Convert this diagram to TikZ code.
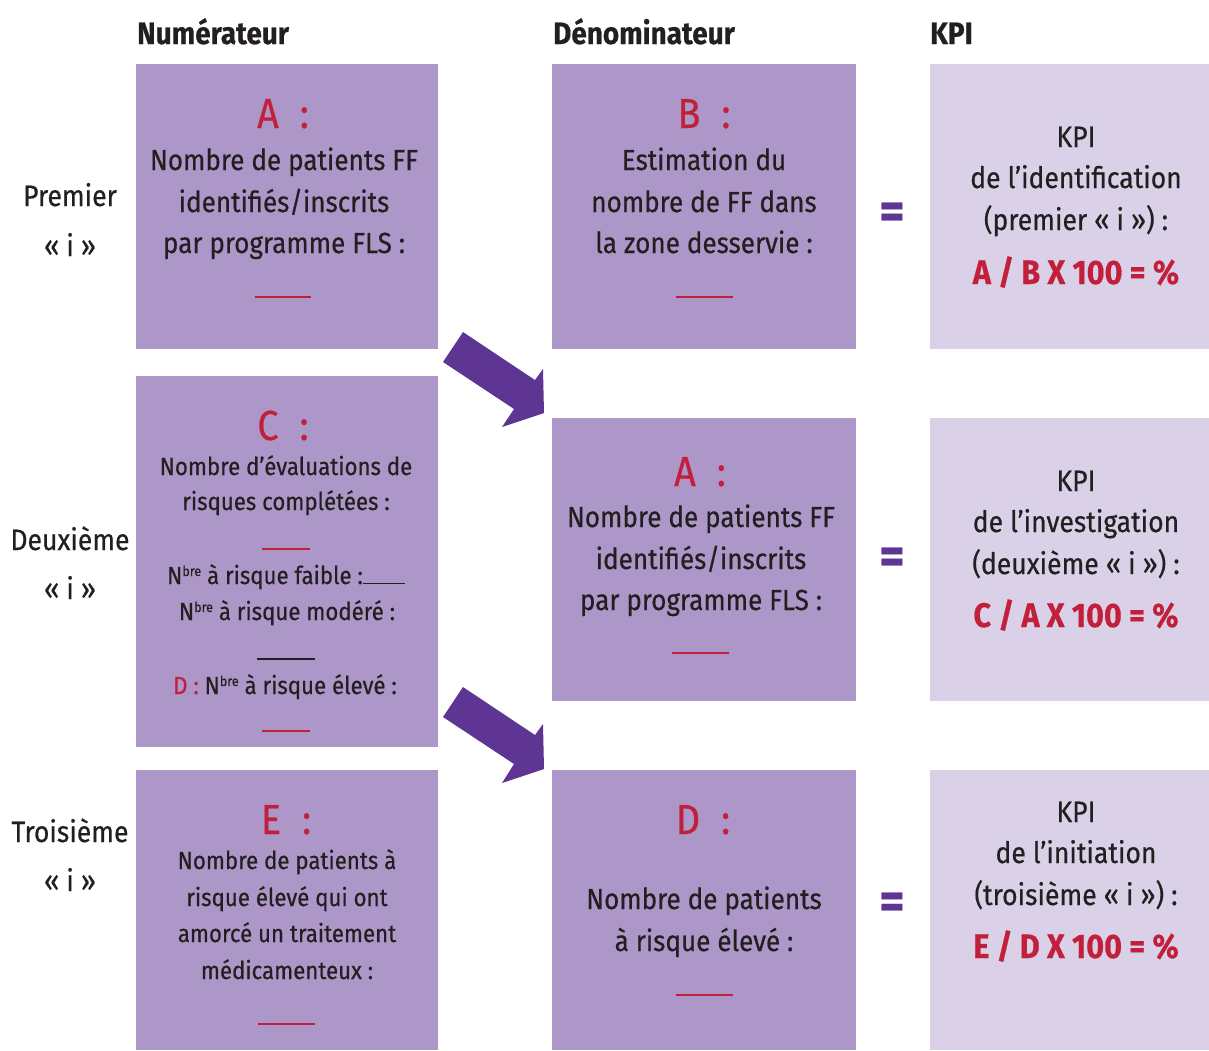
\documentclass[tikz,border=0pt]{standalone}
\usepackage{fontspec}
\setmainfont{Fira Sans}[FakeStretch=0.9,FakeBold=0.5]
\definecolor{boxdark}{HTML}{AD97C8}
\definecolor{boxlight}{HTML}{DAD1E8}
\definecolor{arrowpurple}{HTML}{5E3592}
\definecolor{kred}{HTML}{C21F3A}
\definecolor{ink}{HTML}{231F20}
\newcommand{\nbre}{N\raisebox{8pt}{\fontsize{14}{14}\selectfont bre}}
\tikzset{
  panel/.style={inner sep=0pt, outer sep=0pt, anchor=north west, draw=none},
  darkbox/.style={panel, fill=boxdark},
  lightbox/.style={panel, fill=boxlight},
  body/.style={anchor=base, inner sep=0pt, text=ink, font=\fontsize{29}{34}\selectfont},
  kpitext/.style={anchor=base, inner sep=0pt, text=ink, font=\fontsize{29.5}{34}\selectfont},
  small/.style={anchor=base, inner sep=0pt, text=ink, font=\fontsize{24.7}{30}\selectfont},
  side/.style={anchor=base, inner sep=0pt, text=ink, font=\fontsize{29.5}{32}\selectfont},
  head/.style={anchor=base west, inner sep=0pt, text=ink, font=\bfseries\fontsize{31}{34}\selectfont},
  letter/.style={anchor=base, inner sep=0pt, text=kred, font=\fontsize{42}{46}\selectfont},
  formula/.style={anchor=base, inner sep=0pt, text=kred, font=\bfseries\fontsize{34}{38}\selectfont},
  blank/.style={anchor=center, inner sep=0pt, text=kred},
  equal/.style={anchor=center, inner sep=0pt, text=arrowpurple, font=\bfseries\fontsize{54}{58}\selectfont},
  blockarrow/.style={fill=arrowpurple, draw=none}
}
\begin{document}
\begin{tikzpicture}[x=1pt,y=-1pt]
\path[use as bounding box] (0,0) rectangle (1209,1050);
\fill[white] (0,0) rectangle (1209,1050);

% headers
\node[head] (hNum) at (137,44) {Numérateur};
\node[head] (hDen) at (553,44) {Dénominateur};
\node[head] (hKpi) at (930,44) {KPI};

% panels
\node[darkbox, minimum width=302pt, minimum height=285pt] (boxA) at (136,64) {};
\node[darkbox, minimum width=304pt, minimum height=285pt] (boxB) at (552,64) {};
\node[lightbox, minimum width=279pt, minimum height=285pt] (kpiOne) at (930,64) {};
\node[darkbox, minimum width=302pt, minimum height=371pt] (boxC) at (136,376) {};
\node[darkbox, minimum width=304pt, minimum height=283pt] (boxAtwo) at (552,418) {};
\node[lightbox, minimum width=279pt, minimum height=283pt] (kpiTwo) at (930,418) {};
\node[darkbox, minimum width=302pt, minimum height=280pt] (boxE) at (136,770) {};
\node[darkbox, minimum width=304pt, minimum height=280pt] (boxD) at (552,770) {};
\node[lightbox, minimum width=279pt, minimum height=280pt] (kpiThree) at (930,770) {};

% side labels
\node[side] (s1a) at (70,206) {Premier};
\node[side] (s1b) at (70,256) {«~i~»};
\node[side] (s2a) at (70,550) {Deuxième};
\node[side] (s2b) at (70,599) {«~i~»};
\node[side] (s3a) at (70,842) {Troisième};
\node[side] (s3b) at (70,891) {«~i~»};

% box A
\node[letter] (aLet) at (283,128) {A\enspace:};
\node[body] (aL1) at (284,170) {Nombre de patients FF};
\node[body] (aL2) at (284,212) {identifiés/inscrits};
\node[body] (aL3) at (284,253) {par programme FLS :};
\node[blank] (aBl) at (283,297) {\rule{56pt}{2.5pt}};

% box B
\node[letter] (bLet) at (704,128) {B\enspace:};
\node[body] (bL1) at (704,170) {Estimation du};
\node[body] (bL2) at (704,212) {nombre de FF dans};
\node[body] (bL3) at (704,253) {la zone desservie :};
\node[blank] (bBl) at (704,297) {\rule{57pt}{2.5pt}};

% KPI 1
\node[kpitext] (k1L1) at (1076,147) {KPI};
\node[kpitext] (k1L2) at (1076,188) {de l’identification};
\node[kpitext] (k1L3) at (1076,230) {(premier «~i~») :};
\node[formula] (k1F) at (1076,284) {A / B X 100 = \%};

% box C
\node[letter] (cLet) at (283,440) {C\enspace:};
\node[small] (cL1) at (286,475) {Nombre d’évaluations de};
\node[small] (cL2) at (286,510) {risques complétées :};
\node[blank] (cBl1) at (286,549) {\rule{48pt}{2.5pt}};
\node[small] (cL3) at (286,584) {\nbre{} à risque faible :\rule{42pt}{1.5pt}};
\node[small] (cL4) at (287,620) {\nbre{} à risque modéré :};
\node[blank, text=ink] (cBl2) at (286,659) {\rule{58pt}{2pt}};
\node[small] (cL5) at (285,694) {\textcolor{kred}{D : }\nbre{} à risque élevé :};
\node[blank] (cBl3) at (286,731) {\rule{48pt}{2.5pt}};

% box A two
\node[letter] (a2Let) at (700,486) {A\enspace:};
\node[body] (a2L1) at (701,527) {Nombre de patients FF};
\node[body] (a2L2) at (701,569) {identifiés/inscrits};
\node[body] (a2L3) at (701,610) {par programme FLS :};
\node[blank] (a2Bl) at (700,653) {\rule{57pt}{2.5pt}};

% KPI 2
\node[kpitext] (k2L1) at (1076,491) {KPI};
\node[kpitext] (k2L2) at (1076,532) {de l’investigation};
\node[kpitext] (k2L3) at (1076,574) {(deuxième «~i~») :};
\node[formula] (k2F) at (1076,627) {C / A X 100 = \%};

% box E
\node[letter] (eLet) at (286,834) {E\enspace:};
\node[small] (eL1) at (287,869) {Nombre de patients à};
\node[small] (eL2) at (287,906) {risque élevé qui ont};
\node[small] (eL3) at (287,942) {amorcé un traitement};
\node[small] (eL4) at (287,979) {médicamenteux :};
\node[blank] (eBl) at (286,1024) {\rule{57pt}{2.5pt}};

% box D
\node[letter] (dLet) at (703,834) {D\enspace:};
\node[body] (dL1) at (704,909) {Nombre de patients};
\node[body] (dL2) at (704,951) {à risque élevé :};
\node[blank] (dBl) at (704,995) {\rule{57pt}{2.5pt}};

% KPI 3
\node[kpitext] (k3L1) at (1076,822) {KPI};
\node[kpitext] (k3L2) at (1076,863) {de l’initiation};
\node[kpitext] (k3L3) at (1076,905) {(troisième «~i~») :};
\node[formula] (k3F) at (1076,958) {E / D X 100 = \%};

% equals
\node[equal] (eq1) at (892,216) {=};
\node[equal] (eq2) at (892,561) {=};
\node[equal] (eq3) at (892,906) {=};

% block arrows
\fill[blockarrow] (463,332) -- (535,380) -- (543,369) -- (544,413) -- (502,427) -- (514,409) -- (443,362) -- cycle;
\fill[blockarrow] (463,687) -- (535,735) -- (543,724) -- (544,769) -- (502,783) -- (514,764) -- (443,717) -- cycle;
\end{tikzpicture}
\end{document}
